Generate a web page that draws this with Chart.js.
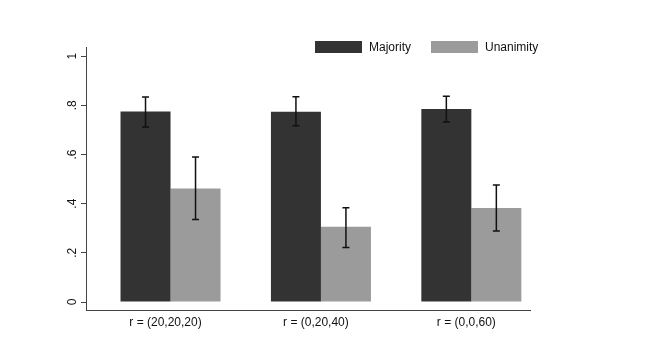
<!DOCTYPE html>
<html>
<head>
<meta charset="utf-8">
<script src="https://cdn.jsdelivr.net/npm/chart.js@4.4.1/dist/chart.umd.min.js"></script>
<style>
  html, body { margin: 0; padding: 0; background: #fff; }
  #wrap { position: relative; width: 654px; height: 354px; }
  #legend { position: absolute; left: 315px; top: 41px; font: 12px "Liberation Sans", Arial, sans-serif; color: #111; }
  .item { position: absolute; top: 0; white-space: nowrap; }
  .swatch { position: absolute; top: 0; width: 47px; height: 12px; }
  .label { position: absolute; left: 54px; top: -1px; line-height: 14px; }
</style>
</head>
<body>
<div id="wrap">
  <canvas id="barChart" width="654" height="354"></canvas>
  <div id="legend"></div>
</div>
<script>
// ---- data ----
const categories = ['r = (20,20,20)', 'r = (0,20,40)', 'r = (0,0,60)'];
const seriesNames = ['Majority', 'Unanimity'];
const majority = [0.775, 0.774, 0.785];
const majorityLo = [0.712, 0.717, 0.732];
const majorityHi = [0.834, 0.835, 0.837];
const unanimity = [0.462, 0.306, 0.382];
const unanimityLo = [0.336, 0.222, 0.289];
const unanimityHi = [0.590, 0.383, 0.476];
const yTicks = [0, 0.2, 0.4, 0.6, 0.8, 1];
const yTickLabels = ['0', '.2', '.4', '.6', '.8', '1'];

const colors = ['#333333', '#9b9b9b'];
const FONT = { family: '"Liberation Sans", Arial, sans-serif', size: 12 };

// legend (html, stata-style at top right)
const legendEl = document.getElementById('legend');
seriesNames.forEach((name, i) => {
    const item = document.createElement('div');
    item.className = 'item';
    item.style.left = (i * 116) + 'px';
    item.innerHTML = '<div class="swatch" style="background:' + colors[i] + '"></div><div class="label">' + name + '</div>';
    legendEl.appendChild(item);
});

// error bars drawn on top of the bars
const errorBars = {
    id: 'errorBars',
    afterDatasetsDraw(chart) {
        const ctx = chart.ctx;
        const y = chart.scales.y;
        const ranges = [[majorityLo, majorityHi], [unanimityLo, unanimityHi]];
        ctx.save();
        ctx.strokeStyle = '#111';
        ctx.lineWidth = 1.5;
        ranges.forEach((r, di) => {
            const meta = chart.getDatasetMeta(di);
            meta.data.forEach((bar, j) => {
                const x = bar.x;
                const top = y.getPixelForValue(r[1][j]);
                const bot = y.getPixelForValue(r[0][j]);
                ctx.beginPath();
                ctx.moveTo(x, top); ctx.lineTo(x, bot);
                ctx.moveTo(x - 3.5, top); ctx.lineTo(x + 3.5, top);
                ctx.moveTo(x - 3.5, bot); ctx.lineTo(x + 3.5, bot);
                ctx.stroke();
            });
        });
        ctx.restore();
    }
};

new Chart(document.getElementById('barChart'), {
    type: 'bar',
    data: {
        datasets: [
            {
                label: seriesNames[0],
                data: majority.map((v, i) => ({ x: i, y: v })),
                backgroundColor: colors[0],
                borderWidth: 0
            },
            {
                label: seriesNames[1],
                data: unanimity.map((v, i) => ({ x: i, y: v })),
                backgroundColor: colors[1],
                borderWidth: 0
            }
        ]
    },
    options: {
        responsive: false,
        animation: false,
        categoryPercentage: 0.665,
        barPercentage: 1,
        layout: { padding: { top: 47, right: 124, bottom: 0, left: 50 } },
        plugins: {
            legend: { display: false },
            tooltip: { enabled: false }
        },
        scales: {
            x: {
                type: 'linear',
                min: -0.562,
                max: 2.39,
                offset: false,
                grid: { display: true, drawOnChartArea: false, drawTicks: false, offset: false },
                border: { display: true, color: '#444', width: 1 },
                afterBuildTicks: s => { s.ticks = categories.map((c, i) => ({ value: i })); },
                afterFit: s => { s.height = 44; },
                ticks: {
                    autoSkip: false,
                    maxRotation: 0,
                    padding: 5,
                    labelOffset: -5,
                    color: '#111',
                    font: FONT,
                    callback: v => categories[v]
                }
            },
            y: {
                min: -0.0325,
                max: 1.037,
                afterBuildTicks: s => { s.ticks = yTicks.map(v => ({ value: v })); },
                afterFit: s => { s.width = 36; },
                grid: { display: true, drawOnChartArea: false, tickLength: 5, color: '#444' },
                border: { display: true, color: '#444', width: 1 },
                ticks: {
                    minRotation: 90,
                    maxRotation: 90,
                    crossAlign: 'center',
                    padding: 3,
                    color: '#111',
                    font: FONT,
                    callback: v => yTickLabels[yTicks.indexOf(v)]
                }
            }
        }
    },
    plugins: [errorBars]
});
</script>
</body>
</html>
